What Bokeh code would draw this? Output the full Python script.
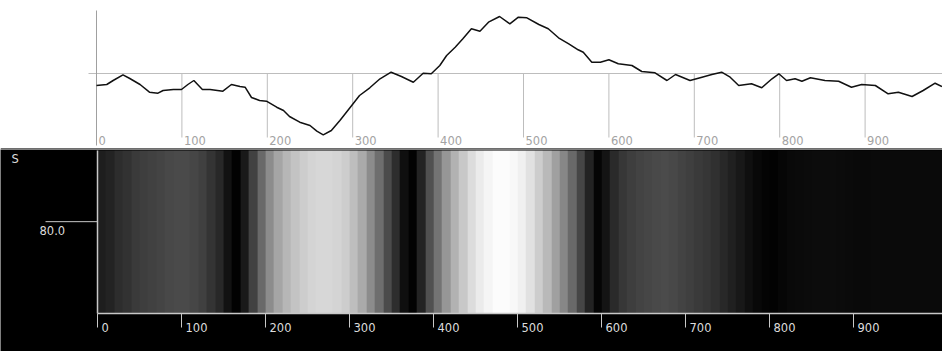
import numpy as np
from bokeh.plotting import figure
from bokeh.layouts import column
from bokeh.models import Range1d, Span
from bokeh.core.properties import value
from bokeh.embed import file_html
from bokeh.resources import INLINE

# ---------------- data ----------------
# top trace (x position, amplitude)
trace_x = [0, 12, 19.5, 31, 39, 51, 62, 72, 78, 90, 99.5, 107, 114, 124, 133, 148, 158, 168, 174,
           181.5, 191, 199, 211, 219, 226, 238, 250, 258, 265.5, 275, 285, 297, 308, 320, 332, 345,
           357, 371, 382.5, 392, 402, 410, 420, 429, 439, 449, 459, 472, 484, 494, 504, 518, 529,
           541, 553, 564, 570, 580, 590, 600, 611, 627, 638.5, 654, 668, 678, 695, 709, 720.5, 732,
           742, 752, 767, 779, 791, 799, 808, 818, 826, 836, 853, 869, 884, 896, 912, 927, 939,
           955, 968, 982, 990]
trace_y = [-12, -11, -7, -1.3, -5, -11, -18.7, -19.7, -17, -16, -16, -11, -7, -16, -16, -17.7, -11, -13,
           -13.7, -24, -27, -27.7, -33.7, -37, -43, -48.7, -52, -57.7, -61.3, -57, -47, -34, -22,
           -14.3, -5.3, 1.3, -3, -8.7, 0.3, -0.3, 8, 18, 26.3, 34.7, 44.7, 42.3, 51.3, 57, 49.7,
           56.3, 55.7, 49, 44.7, 35.7, 29.7, 23.7, 21.3, 11.3, 11.3, 13.7, 9.7, 8, 2, 0.7, -7, -1,
           -7, -3.7, -1, 1.3, -3.7, -12, -10.3, -14.3, -5.3, -0.3, -7, -5.3, -7.7, -4.3, -7, -7.7,
           -13.7, -11, -12, -20.3, -18.7, -23, -17, -9.7, -13]
top_ticks = [0, 100, 200, 300, 400, 500, 600, 700, 800, 900]
top_tick_labels = ["0", "100", "200", "300", "400", "500", "600", "700", "800", "900"]

# bottom band: grey level every 10 units, from 0
band_step = 10
band_levels = [30, 35, 45, 50, 58, 62, 65, 68, 72, 74,
               74, 70, 64, 52, 40, 18, 2, 25, 65, 105,
               140, 165, 182, 195, 205, 212, 215, 215, 212, 205,
               190, 170, 140, 110, 75, 45, 15, 2, 35, 80,
               115, 150, 178, 200, 220, 235, 245, 252, 252, 248,
               240, 225, 205, 185, 160, 135, 105, 70, 35, 5,
               20, 42, 55, 62, 67, 70, 73, 75, 72, 67,
               63, 58, 54, 48, 40, 32, 24, 15, 8, 4,
               2, 6, 9, 10, 11, 12, 12, 12, 11, 10,
               9, 9, 10, 10, 10, 10, 10, 10, 10, 10,
               10]
band_height = 142
band_ticks = [0, 100, 200, 300, 400, 500, 600, 700, 800, 900]
band_tick_labels = ["0", "100", "200", "300", "400", "500", "600", "700", "800", "900"]
s_ticks = [80.0]
s_tick_labels = ["80.0"]
s_label = "S"

FONT = value("DejaVu Sans")
FS = "11.5px"
W = 942

# ---------------- top panel ----------------
TOP_H = 149
PXU_T = 0.854          # pixels per x unit
LEFT_T = 96            # pixel of x = 0
xr_t = Range1d(-LEFT_T / PXU_T, (W - LEFT_T) / PXU_T)
yr_t = Range1d(-76, 73)
p1 = figure(width=W, height=TOP_H, x_range=xr_t, y_range=yr_t,
            x_axis_location=None, y_axis_location=None,
            toolbar_location=None, output_backend="svg",
            min_border=0, outline_line_color=None,
            background_fill_color="white", border_fill_color="white")
p1.grid.visible = False

GRID = "#bdbdbd"
# centre line
p1.segment(x0=[-8 / PXU_T], y0=[0], x1=[xr_t.end], y1=[0], line_color=GRID, line_width=1)
# vertical axis
p1.segment(x0=[0], y0=[63], x1=[0], y1=[-72], line_color="#a0a0a0", line_width=1)
# grid ticks
p1.segment(x0=top_ticks[1:], y0=[0] * (len(top_ticks) - 1), x1=top_ticks[1:], y1=[-64] * (len(top_ticks) - 1),
           line_color=GRID, line_width=1)
p1.text(x=top_ticks, y=[-67] * len(top_ticks), text=top_tick_labels, x_offset=2,
        text_font=FONT, text_font_size=FS, text_color="#a3a3a3", text_baseline="alphabetic")
p1.line(trace_x, trace_y, line_color="#111111", line_width=1.5)
p1.add_layout(Span(location=-75, dimension="width", line_color="#6e6e6e", line_width=1))

# ---------------- bottom panel ----------------
BOT_H = 351 - TOP_H
PXU_B = 0.84
LEFT_B = 97
AX_PY = 313 - TOP_H     # pixel row of y = 0 within the bottom figure
IMG_TOP = 150 - TOP_H
YPU = band_height / (AX_PY - IMG_TOP)   # y units per pixel
xr_b = Range1d(-LEFT_B / PXU_B, (W - LEFT_B) / PXU_B)
yr_b = Range1d(-(BOT_H - AX_PY) * YPU, AX_PY * YPU)
p2 = figure(width=W, height=BOT_H, x_range=xr_b, y_range=yr_b,
            x_axis_location=None, y_axis_location=None,
            toolbar_location=None, output_backend="svg",
            min_border=0, outline_line_color=None,
            background_fill_color="black", border_fill_color="black")
p2.grid.visible = False

n = len(band_levels)
g = np.array(band_levels, dtype=np.uint8)
img = np.empty((1, n), dtype=np.uint32)
view = img.view(dtype=np.uint8).reshape((1, n, 4))
view[0, :, 0] = g
view[0, :, 1] = g
view[0, :, 2] = g
view[0, :, 3] = 255
p2.image_rgba(image=[img], x=0, y=0, dw=band_step * n, dh=band_height)

AXC = "#c8c8c8"
# axes lines
p2.segment(x0=[0], y0=[0], x1=[xr_b.end], y1=[0], line_color=AXC, line_width=1.5)
p2.segment(x0=[0], y0=[0], x1=[0], y1=[band_height], line_color=AXC, line_width=1.5)
# x ticks (downward 14 px)
tick_len = 14 * YPU
p2.segment(x0=band_ticks, y0=[0] * len(band_ticks), x1=band_ticks, y1=[-tick_len] * len(band_ticks),
           line_color=AXC, line_width=1)
p2.text(x=band_ticks, y=[0] * len(band_ticks), text=band_tick_labels, x_offset=4, y_offset=14,
        text_font=FONT, text_font_size=FS, text_color="#dcdcdc", text_baseline="alphabetic")
# y tick (leftward 52 px)
p2.segment(x0=[0] * len(s_ticks), y0=s_ticks, x1=[-52 / PXU_B] * len(s_ticks), y1=s_ticks,
           line_color=AXC, line_width=1)
p2.text(x=[0] * len(s_ticks), y=s_ticks, text=s_tick_labels, x_offset=-58, y_offset=9,
        text_font=FONT, text_font_size=FS, text_color="#dcdcdc", text_baseline="alphabetic")
p2.text(x=[xr_b.start], y=[yr_b.end], text=[s_label], x_offset=11, y_offset=9,
        text_font=FONT, text_font_size=FS, text_color="#dcdcdc", text_baseline="alphabetic")

layout = column(p1, p2, spacing=0)
open("out.html", "w").write(file_html(layout, INLINE))
